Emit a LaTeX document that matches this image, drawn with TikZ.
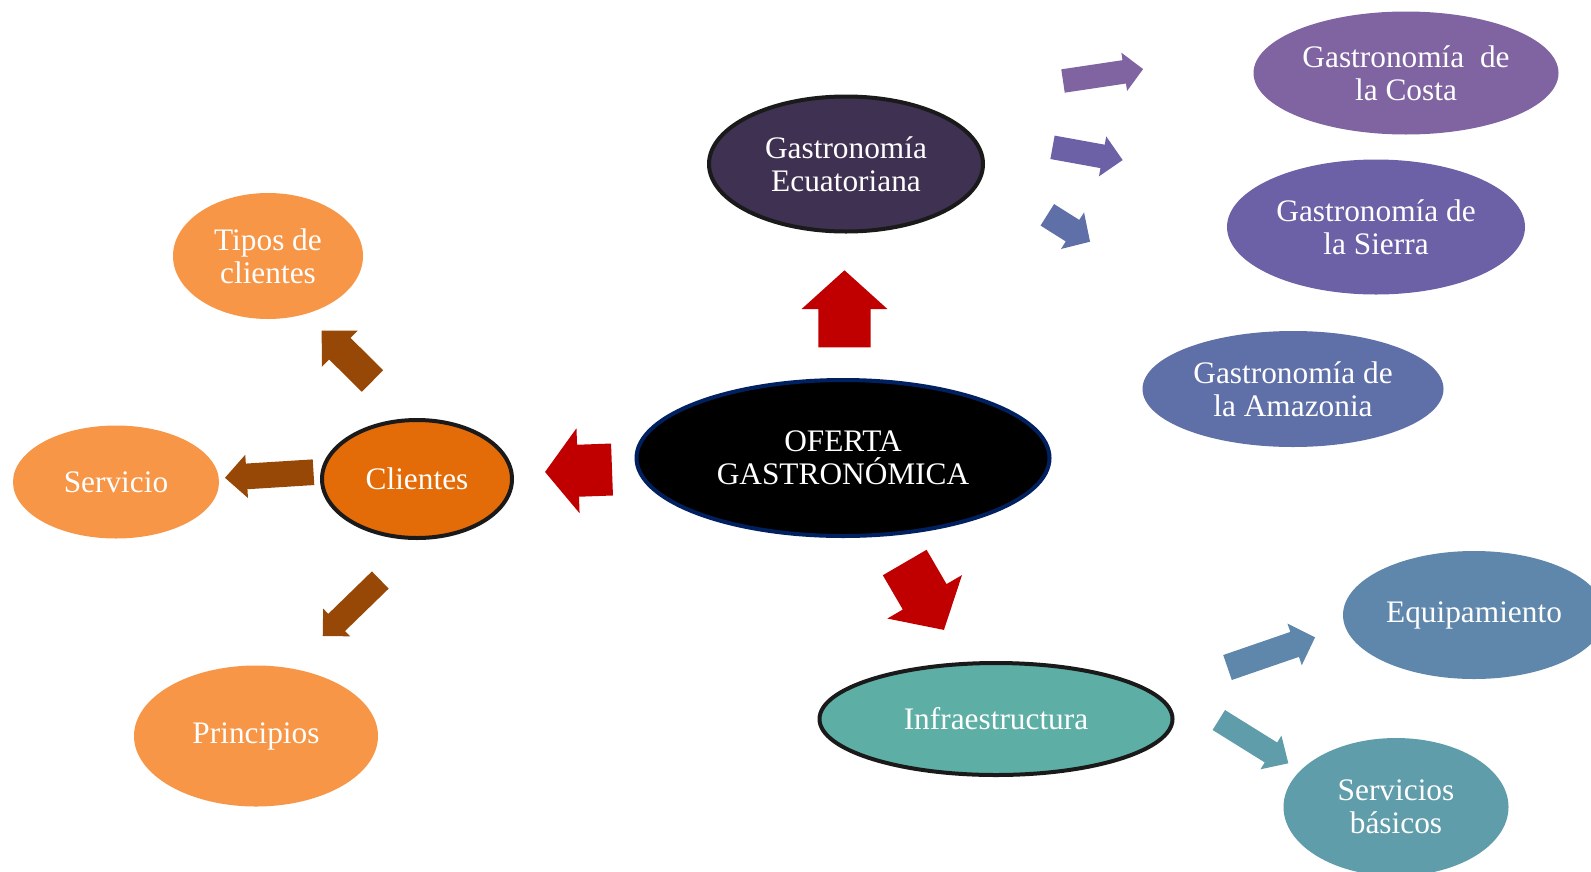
\documentclass[tikz,border=0pt]{standalone}
\usepackage{fontspec}
\setmainfont{Liberation Serif}
\usetikzlibrary{shapes.geometric}

% colours
\definecolor{navy}{HTML}{002060}
\definecolor{rim}{HTML}{1A1A1A}
\definecolor{ecuador}{HTML}{3F3151}
\definecolor{clients}{HTML}{E36C09}
\definecolor{peach}{HTML}{F79646}
\definecolor{brownarrow}{HTML}{984806}
\definecolor{redarrow}{HTML}{C00000}
\definecolor{infra}{HTML}{5DAFA5}
\definecolor{costa}{HTML}{8064A2}
\definecolor{sierra}{HTML}{6C61A6}
\definecolor{amazon}{HTML}{5F6FA8}
\definecolor{equip}{HTML}{5F87AB}
\definecolor{basic}{HTML}{5F9DAA}

% block arrow: colour, tail x, tail y, angle (clockwise, y down), length,
% shaft width, head width, head length
\newcommand{\fatarrow}[8]{%
  \fill[#1,shift={(#2,#3)},rotate={-(#4)}]
    (0,{-(#6)/2}) -- ({#5-#8},{-(#6)/2}) -- ({#5-#8},{-(#7)/2}) -- (#5,0)
    -- ({#5-#8},{(#7)/2}) -- ({#5-#8},{(#6)/2}) -- (0,{(#6)/2}) -- cycle;}

\tikzset{
  bubble/.style 2 args={ellipse, inner sep=0pt, align=center, text=white,
    font=\fontsize{23.5}{25}\selectfont,
    minimum width=#1*0.75pt, minimum height=#2*0.75pt},
  rimmed/.style={draw=rim, line width=3pt},
}

\begin{document}
\begin{tikzpicture}[x=0.75pt,y=-0.75pt]
\useasboundingbox (0,0) rectangle (1591,871);
\clip (0,0) rectangle (1591,871);

% central node
\node[bubble={413}{156}, fill=black, draw=navy, line width=3pt] (oferta) at (843,458)
  {OFERTA\\GASTRONÓMICA};

% first ring
\node[bubble={274}{135}, fill=ecuador, rimmed] (ecu) at (846,164)
  {Gastronomía\\Ecuatoriana};
\node[bubble={190}{118}, fill=clients, rimmed] (cli) at (417,479) {Clientes};
\node[bubble={353}{112}, fill=infra, rimmed] (inf) at (996,719) {Infraestructura};

% client topics
\node[bubble={190}{126}, fill=peach] (tipos) at (268,256) {Tipos de\\clientes};
\node[bubble={206}{113}, fill=peach] (serv) at (116,482) {Servicio};
\node[bubble={244}{141}, fill=peach] (prin) at (256,736) {Principios};

% regional cuisines
\node[bubble={305}{123}, fill=costa] (costa) at (1406,73)
  {Gastronomía~\ de\\la Costa};
\node[bubble={298}{135}, fill=sierra] (sierra) at (1376,227)
  {Gastronomía de\\la Sierra};
\node[bubble={301}{116}, fill=amazon] (amaz) at (1293,389)
  {Gastronomía de\\la Amazonia};

% infrastructure items
\node[bubble={262}{128}, fill=equip] (equip) at (1474,615) {Equipamiento};
\node[bubble={225}{138}, fill=basic] (basic) at (1396,807) {Servicios\\básicos};

% red arrows out of the centre
\fatarrow{redarrow}{844.5}{347.3}{-90}{77}{52.4}{86}{38.8}
\fatarrow{redarrow}{612}{469.5}{177.9}{67}{52}{85}{33}
\fatarrow{redarrow}{904.7}{562.5}{59.8}{78}{50.6}{86.4}{38.3}

% brown arrows around Clientes
\fatarrow{brownarrow}{372.5}{381}{-135.3}{71.5}{30.4}{51}{25.5}
\fatarrow{brownarrow}{313.5}{472.2}{176.4}{88.7}{25.7}{43.4}{21.7}
\fatarrow{brownarrow}{380.3}{580}{135.8}{80.3}{24}{38.7}{19.4}

% arrows towards the regional cuisines
\fatarrow{costa}{1063}{81}{-8.5}{81}{23.6}{38.7}{19.1}
\fatarrow{sierra}{1052.5}{147.3}{10.3}{71.3}{23.8}{40.6}{20.4}
\fatarrow{amazon}{1047.3}{214.8}{32.2}{50.5}{25.4}{43.2}{20.7}

% arrows towards the infrastructure items
\fatarrow{equip}{1227.5}{667.5}{-19}{92.6}{26.4}{44}{21.6}
\fatarrow{basic}{1218.8}{720}{31.9}{81.9}{23.5}{39.7}{20.5}
\end{tikzpicture}
\end{document}
